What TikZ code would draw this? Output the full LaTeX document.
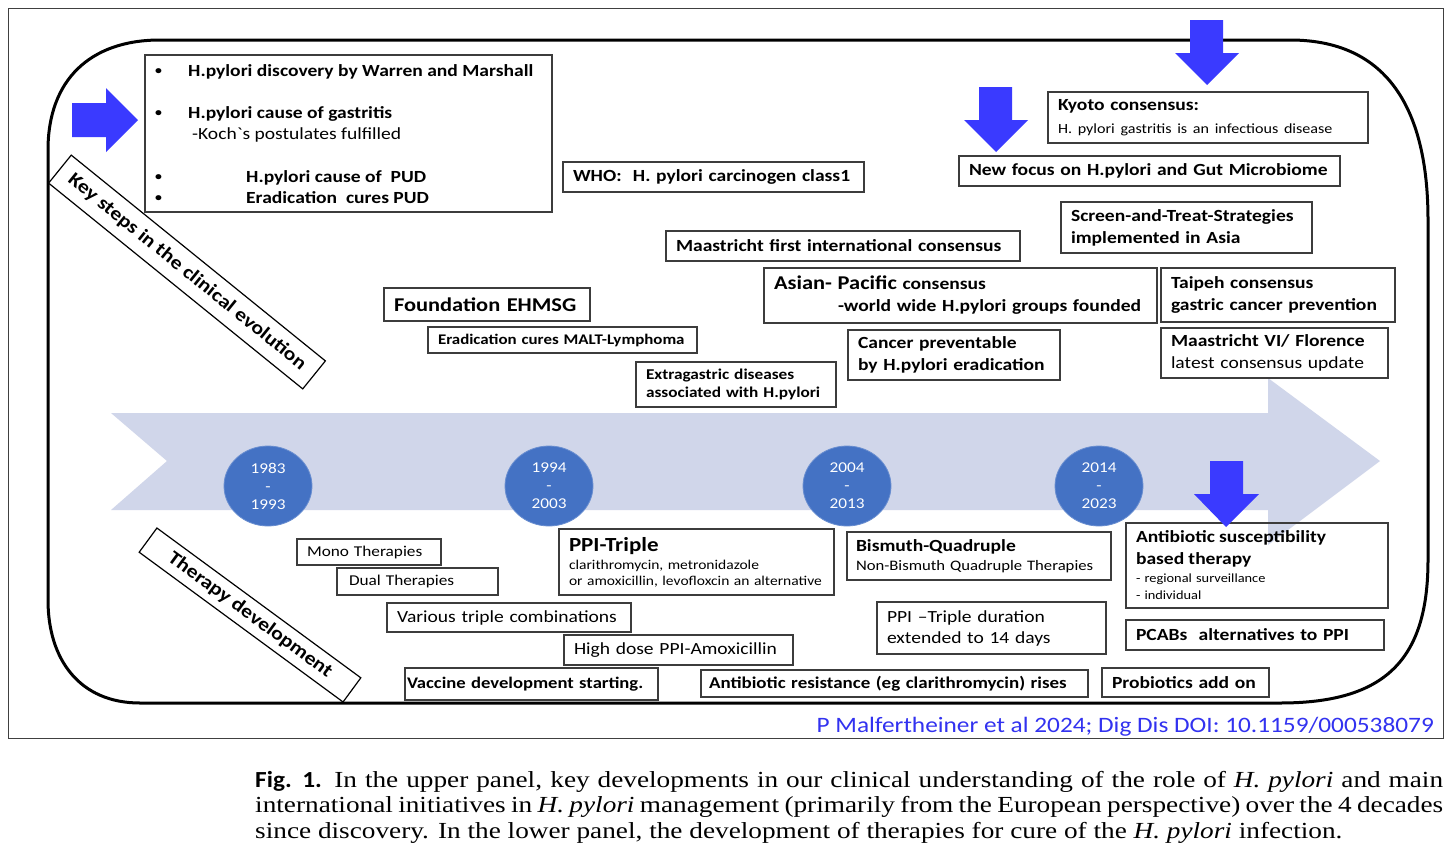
\documentclass[tikz,border=0pt]{standalone}
\usepackage{fontspec}
\setmainfont{Carlito}[FakeStretch=1.15]
\newfontfamily\nomap{Carlito}[FakeStretch=1.15, Ligatures=TeXOff]
\newfontfamily\capserif{Liberation Serif}[FakeStretch=1.185]
\newfontfamily\capsans{Carlito}[FakeStretch=1.1]
\usetikzlibrary{shapes.geometric}
\definecolor{arrowbg}{RGB}{208,214,234}
\definecolor{yearblue}{RGB}{68,114,196}
\definecolor{bluearr}{RGB}{58,58,255}
\definecolor{boxc}{RGB}{60,60,60}
\definecolor{citec}{RGB}{50,50,240}
\newcommand\bx[8]{%
\pgfmathsetmacro\bxw{#4-#2}%
\pgfmathsetmacro\bxh{#5-#3}%
\pgfmathsetmacro\bxt{#4-#2-2*#6}%
\pgfmathsetmacro\bxcx{(#2+#4)/2}%
\pgfmathsetmacro\bxcy{(#3+#5)/2}%
\node[bx, minimum width=\bxw pt, minimum height=\bxh pt, text width=\bxt pt, inner xsep=#6pt, font=#7] (#1) at (\bxcx,\bxcy) {#8};}
\begin{document}
\begin{tikzpicture}[x=1pt,y=-1pt,
  bx/.style={draw=boxc, line width=1.3pt, fill=white, inner ysep=0pt, align=left},
  tx/.style={anchor=base west, inner sep=0pt, font=\fontsize{17}{20}\selectfont\bfseries},
  bul/.style={anchor=base west, inner sep=0pt, font=\fontsize{12}{14}\selectfont\bfseries},
  yr/.style={ellipse, fill=yearblue, draw=yearblue!80!white, line width=0.8pt, minimum width=88pt, minimum height=80pt, inner sep=0pt, align=center, text=white, font=\fontsize{15}{18}\selectfont},
  barr/.style={fill=bluearr}]
\fill[white] (0,0) rectangle (1451,852);
\useasboundingbox (0,0) rectangle (1451,852);
\draw[line width=1pt, draw=black!75] (8,8) rectangle (1443,738);
% timeline arrow
\fill[arrowbg] (111,413) -- (1268,413) -- (1268,378) -- (1380,461) -- (1268,545) -- (1268,510) -- (111,510) -- (167,461) -- cycle;
% frame
\draw[line width=3pt] (160,40) -- (1290,40) .. controls (1395,40) and (1428,120) .. (1428,220) -- (1428,560) .. controls (1428,660) and (1385,703) .. (1280,703) -- (140,703) .. controls (80,703) and (48,660) .. (48,600) -- (48,150) .. controls (48,80) and (90,40) .. (160,40) -- cycle;
% year ellipses
\node[yr] (y1) at (268,486) {1983\\-\\1993};
\node[yr] (y2) at (549,486) {1994\\-\\2003};
\node[yr] (y3) at (847,486) {2004\\-\\2013};
\node[yr] (y4) at (1099,486) {2014\\-\\2023};
% rotated labels
\node[draw=black, line width=1.2pt, fill=white, rotate=-39, minimum width=327pt, minimum height=36pt, inner sep=0pt, font=\fontsize{19}{22}\selectfont\bfseries] (keylbl) at (187,272) {Key steps in the clinical evolution};
\node[draw=black, line width=1.2pt, fill=white, rotate=-36.3, minimum width=253pt, minimum height=30pt, inner sep=0pt, font=\fontsize{19}{22}\selectfont\bfseries] (therlbl) at (250,615) {Therapy development};
% discovery box
\node[bx, minimum width=407pt, minimum height=157pt] (disc) at (348.5,133.5) {};
\node[bul] (b1) at (155,74) {•};
\node[bul] (b2) at (155,116) {•};
\node[bul] (b3) at (155,180) {•};
\node[bul] (b4) at (155,201) {•};
\node[tx] (d1) at (188,76) {H.pylori discovery by Warren and Marshall};
\node[tx] (d2) at (188,118) {H.pylori cause of gastritis};
\node[tx, font=\fontsize{17}{20}\selectfont] (d3) at (192,139) {-Koch{\nomap `}s postulates fulfilled};
\node[tx] (d4) at (246,182) {H.pylori cause of\ \ PUD};
\node[tx] (d5) at (246,203) {Eradication\ \ cures PUD};
% upper boxes
\bx{who}{563}{162}{864}{192}{10}{\fontsize{17}{22}\selectfont\bfseries}{WHO:\ \ H. pylori carcinogen class1}
\bx{kyoto}{1048}{92}{1368}{143}{10}{\fontsize{17}{22}\selectfont}{\textbf{Kyoto consensus:}\\[1pt]{\fontsize{14}{22}\selectfont H. pylori gastritis is an infectious disease}}
\bx{newf}{959}{156}{1340}{186}{10}{\fontsize{17}{22}\selectfont\bfseries}{New focus on H.pylori and Gut Microbiome}
\bx{screen}{1061}{202}{1312}{253}{10}{\fontsize{17}{22}\selectfont\bfseries}{Screen-and-Treat-Strategies\\implemented in Asia}
\bx{maas1}{666}{231}{1020}{261}{10}{\fontsize{17}{22}\selectfont\bfseries}{Maastricht first international consensus}
\bx{asian}{764}{268}{1157}{323}{10}{\fontsize{17}{22}\selectfont\bfseries}{{\fontsize{19.5}{22}\selectfont Asian- Pacific} consensus\\\hspace*{64pt}-world wide H.pylori groups founded}
\bx{taipeh}{1161}{268}{1395}{322}{10}{\fontsize{17}{22}\selectfont\bfseries}{Taipeh consensus\\gastric cancer prevention}
\bx{found}{384}{288}{590}{321}{10}{\fontsize{19.5}{24}\selectfont\bfseries}{Foundation EHMSG}
\bx{malt}{428}{327}{697}{353}{10}{\fontsize{14.7}{18}\selectfont\bfseries}{Eradication cures MALT-Lymphoma}
\bx{cancer}{848}{330}{1060}{380}{10}{\fontsize{17}{22}\selectfont\bfseries}{Cancer preventable\\by H.pylori eradication}
\bx{maas6}{1161}{328}{1388}{378}{10}{\fontsize{17}{22}\selectfont}{\textbf{Maastricht VI/ Florence}\\latest consensus update}
\bx{extra}{636}{362}{836}{407}{10}{\fontsize{15}{18}\selectfont\bfseries}{Extragastric diseases\\associated with H.pylori}
% lower boxes
\bx{mono}{297}{539}{441}{565}{10}{\fontsize{15}{20}\selectfont}{Mono Therapies}
\bx{dual}{337}{568}{498}{595}{12}{\fontsize{15}{20}\selectfont}{Dual Therapies}
\bx{ppi}{559}{529}{834}{595}{10}{\fontsize{13.5}{16}\selectfont}{{\fontsize{20}{22}\selectfont\bfseries PPI-Triple}\\[2pt]clarithromycin, metronidazole\\or amoxicillin, levofloxcin an alternative}
\bx{bis}{847}{532}{1111}{580}{9}{\fontsize{14.5}{19}\selectfont}{{\fontsize{17}{19}\selectfont\bfseries Bismuth-Quadruple}\\Non-Bismuth Quadruple Therapies}
\node[bx, fill=none, minimum width=262pt, minimum height=85pt, text width=242pt, inner xsep=10pt, font=\fontsize{12.5}{17}\selectfont] (anti) at (1257,565.5) {{\fontsize{17}{22}\selectfont\bfseries Antibiotic susceptibility\\[5pt]based therapy}\\[1pt]- regional surveillance\\- individual};
\bx{various}{387}{603}{631}{632}{10}{\fontsize{17}{22}\selectfont}{Various triple combinations}
\bx{high}{564}{635}{793}{665}{10}{\fontsize{17}{22}\selectfont}{High dose PPI-Amoxicillin}
\bx{dur}{877}{602}{1106}{654}{10}{\fontsize{17}{21}\selectfont}{PPI --Triple duration\\extended to 14 days}
\bx{pcab}{1126}{620}{1384}{650}{10}{\fontsize{17}{22}\selectfont\bfseries}{PCABs\ \ alternatives to PPI}
\bx{vacc}{405}{668}{658}{700}{2}{\fontsize{16.2}{22}\selectfont\bfseries}{Vaccine development starting.}
\bx{resist}{701}{670}{1088}{697}{8}{\fontsize{16.5}{22}\selectfont\bfseries}{Antibiotic resistance (eg clarithromycin) rises}
\bx{probio}{1102}{668}{1269}{697}{10}{\fontsize{17}{22}\selectfont\bfseries}{Probiotics add on}
% blue arrows
\fill[barr] (72,103) -- (106,103) -- (106,88) -- (138,120) -- (106,152) -- (106,137) -- (72,137) -- cycle;
\fill[barr] (1190,20) -- (1223,20) -- (1223,53) -- (1239,53) -- (1207,85) -- (1175,53) -- (1190,53) -- cycle;
\fill[barr] (979,87) -- (1012,87) -- (1012,120) -- (1028,120) -- (996,152) -- (964,120) -- (979,120) -- cycle;
\fill[barr] (1210,461) -- (1243,461) -- (1243,494) -- (1259,494) -- (1226,527) -- (1194,494) -- (1210,494) -- cycle;
% citation
\node[anchor=base east, inner sep=0pt, text=citec, font=\fontsize{22}{26}\selectfont] (cite) at (1434,732) {P Malfertheiner et al 2024; Dig Dis DOI: 10.1159/000538079};
% caption
\node[anchor=base west, inner sep=0pt, font=\capserif\fontsize{23}{26}\selectfont] (cap1) at (255,787) {\makebox[1188pt][s]{{\capsans\bfseries Fig. 1.} In the upper panel, key developments in our clinical understanding of the role of \textit{H. pylori} and main}};
\node[anchor=base west, inner sep=0pt, font=\capserif\fontsize{23}{26}\selectfont] (cap2) at (255,812) {\makebox[1188pt][s]{international initiatives in \textit{H. pylori} management (primarily from the European perspective) over the 4 decades}};
\node[anchor=base west, inner sep=0pt, font=\capserif\fontsize{23}{26}\selectfont] (cap3) at (255,838) {since discovery. In the lower panel, the development of therapies for cure of the \textit{H. pylori} infection.};
\end{tikzpicture}
\end{document}
